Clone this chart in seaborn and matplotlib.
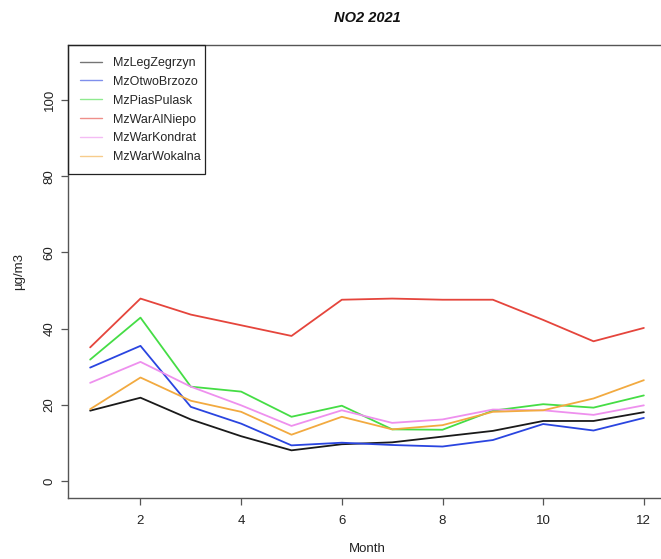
import numpy as np
import pandas as pd
import matplotlib
matplotlib.use("Agg")
import matplotlib.pyplot as plt
import seaborn as sns
from matplotlib.lines import Line2D
from matplotlib.patches import Rectangle

months = list(range(1, 13))
stations = ["MzLegZegrzyn", "MzOtwoBrzozo", "MzPiasPulask",
            "MzWarAlNiepo", "MzWarKondrat", "MzWarWokalna"]
leg_zegrzyn = [18.5, 21.9, 16.2, 11.8, 8.1, 9.7, 10.2, 11.7, 13.2, 15.8, 15.8, 18.1]
otwo_brzozo = [29.8, 35.5, 19.5, 15.1, 9.4, 10.1, 9.5, 9.1, 10.8, 15.0, 13.3, 16.6]
pias_pulask = [31.9, 42.9, 24.8, 23.5, 16.9, 19.8, 13.6, 13.5, 18.5, 20.2, 19.3, 22.5]
war_alniepo = [35.1, 47.9, 43.7, 40.9, 38.1, 47.6, 47.9, 47.6, 47.6, 42.3, 36.7, 40.2]
war_kondrat = [25.8, 31.3, 24.8, 19.9, 14.5, 18.6, 15.3, 16.2, 18.8, 18.6, 17.4, 19.9]
war_wokalna = [18.9, 27.2, 21.1, 18.2, 12.2, 16.9, 13.6, 14.7, 18.2, 18.6, 21.7, 26.5]
colors = ["#1a1a1a", "#2a45e0", "#45dd45", "#e5453c", "#ee90ee", "#f2aa40"]

series = [leg_zegrzyn, otwo_brzozo, pias_pulask, war_alniepo, war_kondrat, war_wokalna]
df = pd.DataFrame({
    "Month": months * len(stations),
    "value": sum(series, []),
    "station": np.repeat(stations, len(months)),
})

sns.set_style("white")
plt.rcParams["font.family"] = ["Liberation Sans", "DejaVu Sans"]

W, H = 661, 559
fig = plt.figure(figsize=(W / 100, H / 100), dpi=100)
ax = fig.add_axes([68 / W, 61 / H, 598 / W, 453 / H])

sns.lineplot(data=df, x="Month", y="value", hue="station",
             palette=dict(zip(stations, colors)), linewidth=1.3,
             ax=ax, legend=False)

ax.set_xlim(0.56, 12.44)
ax.set_ylim(-4.4, 114.4)
ax.set_xticks([2, 4, 6, 8, 10, 12])
ax.set_yticks([0, 20, 40, 60, 80, 100])
ax.tick_params(axis="both", bottom=True, left=True, direction="out",
               length=5, width=0.9, color="#555555", labelsize=9.5,
               labelcolor="#222222")
ax.tick_params(axis="x", pad=7)
ax.tick_params(axis="y", pad=4)
for lab in ax.get_yticklabels():
    lab.set_rotation(90)
    lab.set_va("center")
for name, s in ax.spines.items():
    s.set_color("#555555")
    s.set_linewidth(1.0)
ax.spines["right"].set_visible(False)

ax.set_xlabel("Month", fontsize=9.5, color="#222222", labelpad=12)
ax.set_ylabel("µg/m3", fontsize=9.5, color="#222222", labelpad=13)
fig.text(367 / W, 1 - 18 / H, "NO2 2021", ha="center", va="center",
         fontsize=10.5, fontweight="bold", fontstyle="italic", color="#111111")

handles = [Line2D([0], [0], color=c, lw=1.0, alpha=0.6) for c in colors]
leg = ax.legend(handles, stations, loc="upper left", bbox_to_anchor=(0, 1),
                borderaxespad=0, frameon=False, fontsize=9,
                handlelength=1.75, handletextpad=0.9, labelspacing=0.55,
                borderpad=0.95)
# legend box (R-style square frame)
fig.add_artist(Rectangle((68 / W, 1 - 174 / H), (205 - 68) / W, (174 - 45) / H,
                         transform=fig.transFigure, fill=False,
                         edgecolor="#222222", linewidth=0.9, zorder=5))

fig.savefig("out.png", dpi=100)
